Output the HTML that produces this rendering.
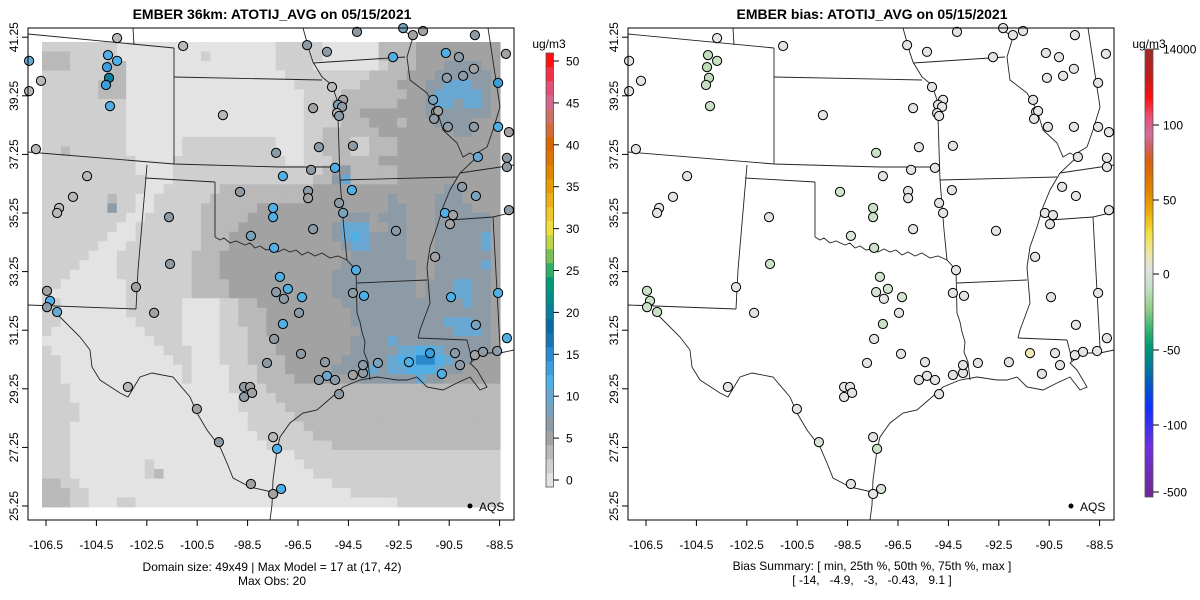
<!DOCTYPE html>
<html><head><meta charset="utf-8"><title>EMBER ATOTIJ_AVG</title>
<style>
html,body{margin:0;padding:0;background:#fff;}
svg{display:block;font-family:"Liberation Sans",sans-serif;}
</style></head>
<body>
<svg id="chart" width="1200" height="600" viewBox="0 0 1200 600" xmlns="http://www.w3.org/2000/svg">
<defs>
<clipPath id="clipL"><rect x="28" y="28" width="486" height="492"/></clipPath>
<clipPath id="clipR"><rect x="628" y="28" width="486" height="492"/></clipPath>
<linearGradient id="biasGrad" x1="0" y1="0" x2="0" y2="1">
<stop offset="0.01" stop-color="#a02828"/><stop offset="0.07" stop-color="#d01818"/><stop offset="0.11" stop-color="#ff1010"/>
<stop offset="0.15" stop-color="#e85070"/><stop offset="0.19" stop-color="#d070a0"/><stop offset="0.22" stop-color="#d06060"/>
<stop offset="0.25" stop-color="#d86010"/><stop offset="0.31" stop-color="#e08000"/><stop offset="0.35" stop-color="#e8a000"/>
<stop offset="0.39" stop-color="#f0c820"/><stop offset="0.41" stop-color="#f0e040"/><stop offset="0.455" stop-color="#ece8a0"/>
<stop offset="0.49" stop-color="#e2e2e2"/><stop offset="0.53" stop-color="#c8e0c8"/><stop offset="0.58" stop-color="#90d088"/>
<stop offset="0.63" stop-color="#30b070"/><stop offset="0.665" stop-color="#009a78"/><stop offset="0.71" stop-color="#007a98"/>
<stop offset="0.76" stop-color="#0050d0"/><stop offset="0.80" stop-color="#1030ff"/><stop offset="0.89" stop-color="#7030e0"/>
<stop offset="1" stop-color="#702890"/>
</linearGradient>
</defs>
<text x="272" y="19" text-anchor="middle" font-size="14" font-weight="bold">EMBER 36km: ATOTIJ_AVG on 05/15/2021</text>
<text x="872" y="19" text-anchor="middle" font-size="14" font-weight="bold">EMBER bias: ATOTIJ_AVG on 05/15/2021</text>
<g id="gridL" clip-path="url(#clipL)"></g>
<g id="mapL" clip-path="url(#clipL)"></g>
<g id="mapR" clip-path="url(#clipR)"></g>
<g id="ptsL"></g>
<g id="ptsR"></g>
<rect x="28" y="28" width="486" height="492" fill="none" stroke="#000"/>
<rect x="628" y="28" width="486" height="492" fill="none" stroke="#000"/>
<g id="axes" font-size="12"></g>
<g><circle cx="470" cy="506" r="2.5" fill="#000"/><text x="479" y="511" font-size="12">AQS</text></g>
<g><circle cx="1071" cy="506" r="2.5" fill="#000"/><text x="1080" y="511" font-size="12">AQS</text></g>
<text x="272" y="571" text-anchor="middle" font-size="12">Domain size: 49x49 | Max Model = 17 at (17, 42)</text>
<text x="272" y="585" text-anchor="middle" font-size="12">Max Obs: 20</text>
<text x="872" y="570" text-anchor="middle" font-size="12">Bias Summary: [ min, 25th %, 50th %, 75th %, max ]</text>
<text x="872" y="584" text-anchor="middle" font-size="12" xml:space="preserve">[ -14,   -4.9,   -3,   -0.43,   9.1 ]</text>
<text x="549" y="48" text-anchor="middle" font-size="12">ug/m3</text>
<text x="1149" y="48" text-anchor="middle" font-size="12">ug/m3</text>
<g id="cbL"></g>
<g id="cbR"></g>
</svg>
<script>
// ---- data ----
const xTicks = [-106.5,-104.5,-102.5,-100.5,-98.5,-96.5,-94.5,-92.5,-90.5,-88.5];
const yTicks = [25.25,27.25,29.25,31.25,33.25,35.25,37.25,39.25,41.25];
const obsTicks = [0,5,10,15,20,25,30,35,40,45,50];
const biasTickLabels = ["14000","100","50","0","-50","-100","-500"];
const levelValues = [0.5,1.7,3.3,5.0,6.7,10.0,11.7,15.0];
const gridRows = [
"11111111 0000000 0000000000 11111 000000 2222 333333333",
"22211111 0000000 0010000000 11111 000000 2222 333343333",
"22211112 2000000 0000000000 11110 000000 1222 333444433",
"11111112 2000000 0000000000 01111 111112 2223 334444443",
"11111122 2000000 0000000000 00111 111122 2233 344555443",
"11111122 2000000 0000000000 00011 112222 2223 345555543",
"11111111 1000000 0000000000 00011 122222 2233 345545543",
"11111111 1000000 0000000000 00011 122233 3333 344444443",
"11111111 1000000 0000000000 00011 112223 3323 334444333",
"11111111 1000000 0000000000 00011 222222 3333 333344333",
"11111111 1000000 1111111111 00011 222112 2233 333333333",
"11211111 1000000 1111111111 00011 222112 2233 333333333",
"11111111 1100001 1111111111 10011 122222 3333 333333333",
"11111111 1100001 1111111111 11111 234222 2233 333333333",
"11111111 1110001 1111111111 11112 245222 2233 333333333",
"11111111 1110011 1111222222 22223 333333 3333 333443333",
"11111112 1100111 1112222222 22233 333333 3433 334443333",
"11111114 1100111 1122222233 33333 333333 3443 334444333",
"11111111 1001111 1122222333 33333 334443 4443 334444443",
"11111111 0011111 1122223333 33333 345553 3443 334444443",
"11111110 0011111 1122233333 33333 345654 4443 334444453",
"11111100 0111111 1122233333 33333 334554 4443 334444453",
"11111000 1111111 1222333333 33333 333444 4443 334444443",
"11110000 1111111 1222333333 33333 334444 4444 334444453",
"11100000 1111111 1222333333 33333 344444 4444 334444443",
"11000000 0111111 1222233333 33333 344444 4444 344455443",
"10000000 0111111 1222233333 33333 344444 4444 344455443",
"11000000 0111111 0000112233 33333 334444 4444 444445443",
"11000000 0111111 0000112223 33333 333444 4444 444444443",
"11000000 0011111 0000112223 33333 333444 4444 444555443",
"10000000 0001111 0000111223 33333 333344 4444 444455543",
"00000000 0000111 0000111222 33333 333444 4544 444444443",
"10000000 0000011 1000111222 33333 333444 4455 665444443",
"11000000 0000001 1000111222 23333 334444 4566 776544333",
"11000000 0000000 1000011122 23333 344455 4556 665443333",
"11000000 0000000 1000011122 22333 333344 4444 544333333",
"11100000 0000000 0000011112 22222 222222 2222 222222222",
"11100000 0000000 0000001111 22222 222222 2222 222222222",
"11110000 0000000 0000001111 12222 222222 2222 222222222",
"11110000 0000000 0000000111 11222 222222 2222 222222222",
"11100000 0000000 0000000111 11122 222222 2222 222222222",
"11100000 0000000 0000000011 11112 222222 2222 222222222",
"11100000 0000000 0000000001 11111 122222 2222 222222222",
"11100000 0000000 0000000000 00111 111111 1111 111111111",
"11100000 0001000 0000000000 00011 111111 1111 111111111",
"11100000 0001200 0000000000 00001 111111 1111 111111111",
"22110000 0000000 0000000000 00000 011111 1111 111111111",
"22211000 0000000 0000000000 00000 000111 1111 111111111",
"22211000 1100000 0000000000 00000 000000 0011 111111111"
];
const stLon = [-103.68,-107.17,-104.04,-103.68,-104.08,-104.0,-104.12,-106.70,-107.17,-103.96,-99.48,-106.90,-97.37,-104.87,-105.43,-105.98,-106.06,-101.62,-98.80,-97.49,-97.49,-98.37,-97.45,-101.58,-101.06,-94.16,-92.33,-91.94,-91.54,-89.48,-96.14,-95.35,-92.73,-90.63,-90.11,-88.25,-89.52,-89.95,-90.59,-88.56,-95.15,-94.71,-94.91,-94.75,-95.90,-94.95,-94.87,-91.14,-91.02,-90.94,-91.10,-90.55,-89.52,-88.56,-88.13,-95.67,-94.32,-89.36,-88.21,-88.21,-97.10,-95.98,-95.03,-94.36,-96.10,-96.10,-94.87,-94.71,-89.99,-89.44,-90.67,-90.35,-90.47,-88.13,-95.90,-92.61,-91.06,-94.20,-97.22,-97.37,-96.90,-96.34,-97.06,-96.46,-97.10,-97.45,-96.38,-95.43,-95.35,-95.67,-95.03,-94.87,-94.32,-93.88,-94.32,-93.92,-93.92,-93.33,-92.10,-91.26,-90.27,-90.79,-90.43,-89.44,-88.56,-88.21,-89.48,-89.16,-88.60,-90.07,-97.49,-97.33,-97.17,-97.49,-106.46,-106.34,-106.46,-106.06,-102.93,-102.21,-103.25,-100.51,-99.64,-98.37,-97.73,-98.64,-98.40,-98.64,-98.32];
const stLat = [41.22,40.44,40.64,40.44,40.23,39.86,39.62,39.76,39.41,38.90,38.59,37.43,37.30,36.51,35.80,35.42,35.25,35.11,35.97,35.42,35.11,34.47,34.06,33.51,40.95,41.43,41.56,41.32,41.46,41.32,40.98,40.75,40.57,40.71,40.57,40.68,40.17,39.93,39.86,39.69,39.55,39.11,38.94,38.87,38.83,38.66,38.56,39.11,38.70,38.73,38.46,38.19,38.19,38.19,38.01,37.50,37.54,37.16,37.13,36.82,36.51,36.72,36.79,36.03,36.0,35.76,35.59,35.25,36.14,35.83,35.25,35.18,34.87,35.35,34.70,34.64,33.75,33.30,33.07,32.55,32.66,32.38,32.32,31.84,31.46,30.95,30.44,30.16,29.69,29.55,29.55,29.07,32.52,32.42,29.72,29.79,30.06,30.13,30.16,30.47,30.47,29.76,32.38,31.43,32.52,30.98,30.40,30.51,30.54,30.06,27.60,27.20,25.83,25.66,32.59,32.25,32.04,31.87,32.72,31.84,29.31,28.56,27.43,26.0,30.13,29.31,29.31,28.97,29.11];
const stObs = [4,10,12,12,14,20,14,4,4,11,4,4,7,4,4,4,4,7,7,12,12,8,12,7,4,7,8,5,5,7,7,7,11,11,6,5,5,6,6,14,4,5,9,7,5,4,7,8,5,5,6,7,6,11,5,7,7,10,6,6,12,7,11,11,7,5,6,9,6,8,12,5,5,6,7,7,5,11,11,7,11,11,6,6,11,6,7,7,10,6,6,6,7,11,5,6,6,8,11,14,6,11,12,8,11,12,5,6,6,6,3,11,11,5,5,11,7,10,5,5,3,5,7,5,7,7,5,7,5];
const stBias = [-2,-3,-12,-10,-14,-13,-11,-3,-3,-9,-2,-3,-8,-3,-3,-3,-3,-3,-7,-8,-8,-5,-8,-8,-3,-3,-2,-3,-3,-3,-3,-2,-3,-3,-3,-2,-3,-3,-2,-3,-3,-2,-3,-3,-3,-3,-3,-3,-3,-3,-3,-3,-3,-3,-2,-3,-3,-3,-2,-3,-4,-3,-3,-3,-3,-3,-3,-3,-3,-3,-3,-3,-3,-2,-3,-3,-3,-3,-7,-6,-7,-7,-3,-3,-8,-3,-3,-3,-3,-3,-3,-3,-3,-3,-3,-3,-3,-3,-3,9.1,-3,-3,-3,-3,-3,-3,-3,-3,-3,-3,-4,-8,-6,-3,-9,-9,-8,-9,-3,-4,-3,-3,-6,-3,-3,-3,-3,-3,-3];
const obsSegColors = ["#e3e3e3","#cfcfcf","#b9b9b9","#a2a2a2","#8d9ba6","#7aa2bb","#68a8d3","#50b0e6","#3a9fdc","#2a8acc","#1875b5","#0a6aa8","#0a7c9c","#008a88","#009878","#30ae68","#78c058","#c0d64a","#ece040","#f0c828","#eab014","#e59c00","#e08600","#dc7400","#d86600","#d36a3a","#cc7068","#d06890","#e05078","#ef3045","#ff1010"];

// ---- scales ----
const lonToX = lon => 46 + (lon + 106.5) * 25.2;
const latToY = lat => 506 - (lat - 25.25) * 29.3;
const cellX = c => 42 + c * 9.35;
const cellY = r => 42 + r * 9.49;
const obsToY = v => 480 - v * 8.38;
const OFFSET_R = 600;
function obsColor(v){ let i = Math.floor((v + 0.84) / 1.67); i = Math.max(0, Math.min(obsSegColors.length - 1, i)); return obsSegColors[i]; }
const biasStops = [[-500,[106,44,140]],[-100,[32,64,240]],[-60,[0,112,168]],[-50,[0,160,112]],[-30,[112,200,112]],[-15,[184,218,176]],[-8,[204,226,200]],[-4,[226,228,226]],[0,[230,230,230]],[5,[236,234,200]],[10,[240,234,170]],[30,[240,224,64]],[50,[232,168,0]],[100,[208,112,160]]];
function biasColor(v){
  for (let i = 0; i < biasStops.length - 1; i++){
    const a = biasStops[i], b = biasStops[i+1];
    if (v >= a[0] && v <= b[0]){ const t = (v - a[0]) / (b[0] - a[0]); const c = a[1].map((x,k)=>Math.round(x + (b[1][k]-x)*t)); return `rgb(${c.join(',')})`; }
  }
  return v < 0 ? 'rgb(106,44,140)' : 'rgb(208,112,160)';
}
const NS = "http://www.w3.org/2000/svg";
function mk(tag, attrs, parent){ const e = document.createElementNS(NS, tag); for (const k in attrs) e.setAttribute(k, attrs[k]); parent.appendChild(e); return e; }

// ---- grid ----
const gridL = document.getElementById('gridL');
gridRows.forEach((row, r) => {
  const s = row.replace(/ /g, '').padEnd(49, row.slice(-1)).slice(0, 49);
  for (let c = 0; c < 49; c++){
    const v = levelValues[+s[c]];
    const cell = mk('rect', {x: cellX(c).toFixed(2), y: cellY(r).toFixed(2), width: 9.75, height: 9.9, fill: obsColor(v)}, gridL);
    
    
  }
});

// ---- map borders (geography outlines in panel pixels) ----
const borders = [
 [[28,34],[174,48]],[[133,28],[134,45]],[[174,48],[174,164]],[[174,77],[322,80]],
 [[303,28],[310,53],[313,62],[322,77],[332,85],[338,103],[338,117],[340,180]],
 [[313,63],[405,57]],[[28,152],[174,164],[280,167],[340,167]],[[145,178],[215,182]],[[215,182],[215,237]],
 [[215,237],[220,240],[224,238],[230,243],[236,241],[245,245],[250,243],[255,248],[260,246],[266,250],[272,249],[278,252],[284,249],[290,252],[296,250],[302,255],[308,252],[315,256],[322,253],[330,258],[338,256],[347,260]],
 [[340,180],[344,230],[347,260],[356,270],[357,313]],
 [[357,313],[360,322],[362,332],[365,342],[364,352],[368,362],[370,380]],
 [[357,283],[427,280]],[[340,180],[457,177]],
 [[400,28],[413,37],[407,57],[410,80],[427,93],[437,110],[443,130],[457,143],[463,157],[470,153],[477,157],[460,173],[450,190],[443,207],[437,227],[430,247],[427,267],[430,303],[420,330],[418,338]],
 [[418,338],[467,340]],[[467,340],[470,352],[472,362]],[[488,28],[500,107]],[[500,107],[493,130],[487,147],[477,153]],
 [[460,173],[514,165]],[[450,220],[493,217],[514,212]],[[493,217],[500,347]],
 [[147,165],[138,270],[136,309]],[[28,305],[136,309]],
 [[53,310],[80,337],[90,350],[92,367],[100,380],[120,393],[128,397],[140,377],[152,373],[173,377],[190,397],[197,413],[207,430],[220,447],[227,463],[233,478],[250,487],[272,492]],
 [[270,520],[272,505],[273,480],[277,450],[280,437],[290,423],[303,413],[317,410],[332,397],[343,387],[360,380],[377,377],[397,380],[407,380],[417,377],[427,387],[443,390],[457,383],[470,377],[480,390],[487,387],[477,370],[470,363],[483,353],[500,353],[514,350]]
];
[['mapL',0],['mapR',OFFSET_R]].forEach(([id, off]) => {
  const g = document.getElementById(id);
  borders.forEach(line => {
    const p = mk('polyline', {points: line.map(q => (q[0]+off)+','+q[1]).join(' '), fill: 'none', stroke: '#222', 'stroke-width': 0.9}, g);
    
    
  });
});

// ---- stations ----
const ptsL = document.getElementById('ptsL'), ptsR = document.getElementById('ptsR');
stLon.forEach((lon, i) => {
  const x = lonToX(lon), y = latToY(stLat[i]);
  const a = mk('circle', {cx: x.toFixed(1), cy: y.toFixed(1), r: 4.6, fill: obsColor(stObs[i]), stroke: '#000', 'stroke-width': 1}, ptsL);
  
  
  const b = mk('circle', {cx: (x + OFFSET_R).toFixed(1), cy: y.toFixed(1), r: 4.6, fill: biasColor(stBias[i]), stroke: '#000', 'stroke-width': 1}, ptsR);
  
  
});

// ---- axes ----
const axes = document.getElementById('axes');
[0, OFFSET_R].forEach(off => {
  xTicks.forEach(t => {
    const x = lonToX(t) + off;
    const tk = mk('line', {x1: x, x2: x, y1: 520, y2: 526, stroke: '#000'}, axes);
    
    
    const lb = mk('text', {x: x, y: 549, 'text-anchor': 'middle'}, axes);
    lb.textContent = t.toFixed(1);
    
    
  });
  yTicks.forEach(t => {
    const y = latToY(t);
    const tk = mk('line', {x1: 22 + off, x2: 28 + off, y1: y, y2: y, stroke: '#000'}, axes);
    
    
    const lb = mk('text', {x: 18 + off, y: y, 'text-anchor': 'middle', transform: `rotate(-90 ${18+off} ${y})`}, axes);
    lb.textContent = t.toFixed(2);
    
    
  });
});

// ---- colorbars ----
const cbL = document.getElementById('cbL');
obsSegColors.forEach((col, i) => {
  const s = mk('rect', {x: 546, y: (487 - (i+1)*14).toFixed(1), width: 7.5, height: 14.2, fill: col}, cbL);
  
  
});
mk('rect', {x: 546, y: 53, width: 7.5, height: 434, fill: 'none', stroke: '#555', 'stroke-width': 0.8}, cbL);
obsTicks.forEach(v => {
  const y = obsToY(v);
  const tk = mk('line', {x1: 553.5, x2: 559, y1: y, y2: y, stroke: '#000'}, cbL);
  
  
  const lb = mk('text', {x: 566, y: y + 4.5, 'font-size': 12}, cbL);
  lb.textContent = v;
  
  
});
const cbR = document.getElementById('cbR');
mk('rect', {x: 1145, y: 49, width: 8, height: 448, fill: 'url(#biasGrad)', stroke: '#555', 'stroke-width': 0.8}, cbR);
const biasTickY = [49,125,200,274,350,425,492];
biasTickLabels.forEach((t, i) => {
  const y = biasTickY[i];
  const tk = mk('line', {x1: 1153, x2: 1159, y1: y, y2: y, stroke: '#000'}, cbR);
  
  
  const lb = mk('text', {x: 1163, y: y + 4.5, 'font-size': 12}, cbR);
  lb.textContent = t;
  
  
});
</script>
</body></html>
